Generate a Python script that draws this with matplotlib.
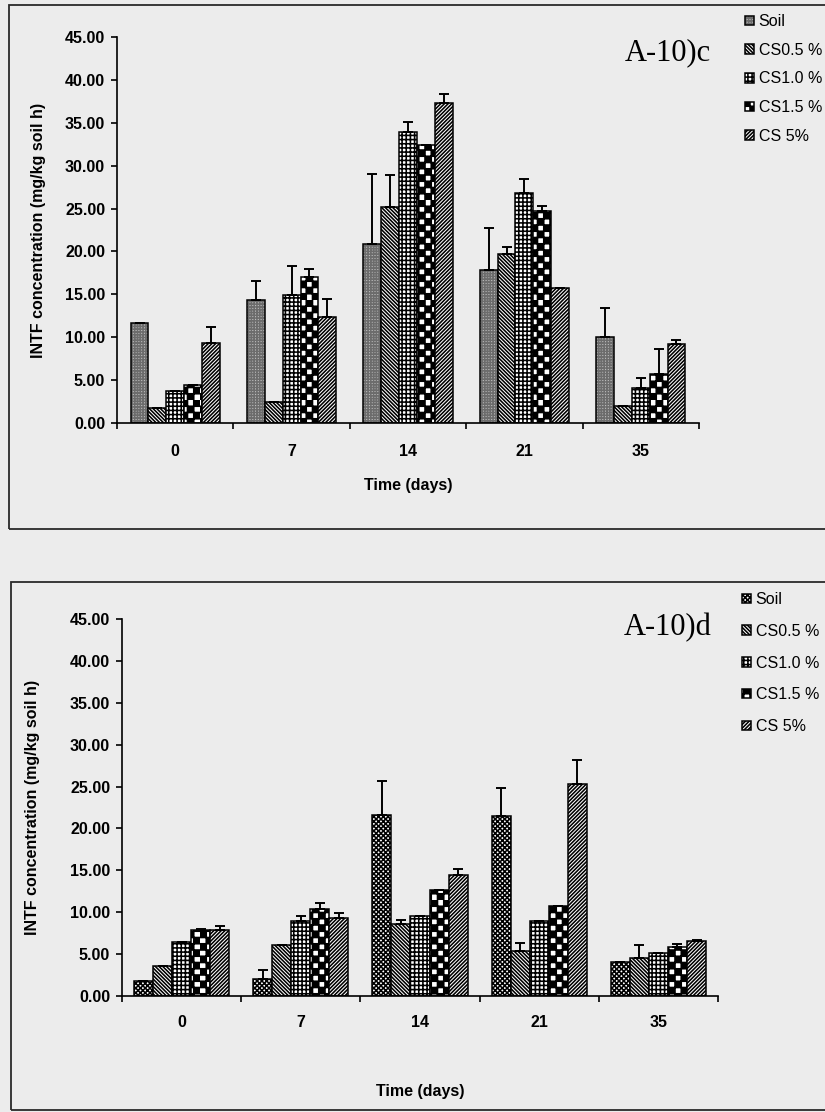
import numpy as np
import matplotlib
matplotlib.use('Agg')
import matplotlib.pyplot as plt
import matplotlib.hatch as mhatch
from matplotlib.path import Path
from matplotlib.patches import Rectangle
from matplotlib.ticker import FormatStrFormatter

# ---- data ----
days = ['0', '7', '14', '21', '35']
series = ['Soil', 'CS0.5 %', 'CS1.0 %', 'CS1.5 %', 'CS 5%']

# panel A-10)c
soil_c = [11.6, 14.3, 20.9, 17.8, 10.0]
cs05_c = [1.7, 2.4, 25.2, 19.7, 2.0]
cs10_c = [3.7, 14.9, 33.9, 26.8, 4.1]
cs15_c = [4.4, 17.0, 32.4, 24.7, 5.7]
cs50_c = [9.3, 12.3, 37.3, 15.7, 9.2]
soil_c_err = [0.0, 2.2, 8.1, 4.9, 3.4]
cs05_c_err = [0.0, 0.0, 3.7, 0.8, 0.0]
cs10_c_err = [0.0, 3.4, 1.2, 1.7, 1.2]
cs15_c_err = [0.0, 1.0, 0.0, 0.6, 2.9]
cs50_c_err = [1.9, 2.2, 1.0, 0.0, 0.5]

# panel A-10)d
soil_d = [1.8, 2.0, 21.6, 21.5, 4.0]
cs05_d = [3.6, 6.1, 8.6, 5.4, 4.5]
cs10_d = [6.4, 8.9, 9.5, 8.9, 5.1]
cs15_d = [7.9, 10.4, 12.6, 10.7, 5.8]
cs50_d = [7.9, 9.3, 14.4, 25.3, 6.6]
soil_d_err = [0.0, 1.1, 4.1, 3.3, 0.0]
cs05_d_err = [0.0, 0.0, 0.5, 0.9, 1.6]
cs10_d_err = [0.0, 0.6, 0.0, 0.0, 0.0]
cs15_d_err = [0.1, 0.7, 0.0, 0.0, 0.4]
cs50_d_err = [0.5, 0.6, 0.8, 2.9, 0.1]


# checkerboard fill for the CS 1.5 % bars (uses the '*' hatch slot)
class CheckerHatch(mhatch.HatchPatternBase):
    def __init__(self, hatch, density):
        self.n = 16 if '*' in hatch else 0
        self.num_vertices = (self.n * self.n // 2) * 5

    def set_vertices_and_codes(self, vertices, codes):
        s = 1.0 / self.n
        k = 0
        for i in range(self.n):
            for j in range(self.n):
                if (i + j) % 2 == 0:
                    vertices[k:k + 5] = [[i * s, j * s], [(i + 1) * s, j * s],
                                         [(i + 1) * s, (j + 1) * s], [i * s, (j + 1) * s],
                                         [i * s, j * s]]
                    codes[k:k + 5] = [Path.MOVETO, Path.LINETO, Path.LINETO,
                                      Path.LINETO, Path.CLOSEPOLY]
                    k += 5


mhatch._hatch_types = [h for h in mhatch._hatch_types if h is not mhatch.Stars] + [CheckerHatch]

plt.rcParams['font.family'] = 'Liberation Sans'
plt.rcParams['font.weight'] = 'bold'
plt.rcParams['axes.labelweight'] = 'bold'
plt.rcParams['hatch.linewidth'] = 1.15

W, H = 825, 1112
bg = '#ececec'
fig = plt.figure(figsize=(W / 100, H / 100), dpi=100, facecolor=bg)

back = '\\' * 9
fwd = '/' * 9


def draw_panel(ax, vals, errs, hatches, faces, hcols, width, tickpad):
    x = np.arange(len(days))
    n = len(series)
    handles = []
    for i in range(n):
        pos = x + (i - (n - 1) / 2) * width
        b1 = ax.bar(pos, vals[i], width, color=faces[i], edgecolor=hcols[i],
                    hatch=hatches[i], linewidth=0)
        b2 = ax.bar(pos, vals[i], width, fill=False, edgecolor='black', linewidth=1.1,
                    yerr=[np.zeros(len(days)), errs[i]],
                    error_kw=dict(ecolor='black', elinewidth=1.4, capsize=3.6, capthick=1.4))
        handles.append((b1, b2))
    ax.set_facecolor('none')
    ax.set_xlim(-0.5, len(days) - 0.5)
    ax.set_ylim(0, 45)
    ax.set_yticks(np.arange(0, 46, 5))
    ax.yaxis.set_major_formatter(FormatStrFormatter('%.2f'))
    ax.set_xticks(x)
    ax.set_xticklabels(days)
    ax.set_xticks(np.arange(-0.5, len(days), 1), minor=True)
    ax.tick_params(axis='x', which='major', length=0, pad=tickpad, labelsize=11.5)
    ax.tick_params(axis='x', which='minor', length=4, width=1.2, direction='out')
    ax.tick_params(axis='y', length=4, width=1.2, pad=4.5, labelsize=11.5)
    for s in ['top', 'right']:
        ax.spines[s].set_visible(False)
    for s in ['left', 'bottom']:
        ax.spines[s].set_linewidth(1.2)
    ax.set_xlabel('Time (days)', fontsize=11.5)
    ax.set_ylabel('INTF concentration (mg/kg soil h)', fontsize=11.5)
    return handles


# ---- top panel ----
ax1 = fig.add_axes([117 / W, 1 - 423 / H, (699 - 117) / W, (423 - 37) / H])
h1 = draw_panel(ax1,
                [soil_c, cs05_c, cs10_c, cs15_c, cs50_c],
                [soil_c_err, cs05_c_err, cs10_c_err, cs15_c_err, cs50_c_err],
                ['++++++', back, '++++', '*', fwd],
                ['#bcbcbc', 'white', 'white', 'white', 'white'],
                ['#6c6c6c', 'black', 'black', 'black', 'black'],
                0.153, 15)
ax1.xaxis.set_label_coords(0.5, -0.1425)
ax1.yaxis.set_label_coords(-0.122, 0.5)
ax1.legend(h1, series, loc='upper left', bbox_to_anchor=(745 / W, 1 - 14 / H),
           bbox_transform=fig.transFigure, frameon=False, borderpad=0, borderaxespad=0,
           handlelength=0.55, handleheight=0.55, handletextpad=0.3, labelspacing=0.86,
           prop={'family': 'Liberation Sans', 'weight': 'normal', 'size': 11.5})
fig.text(668 / W, 1 - 53 / H, 'A-10)c', family='Liberation Serif', fontweight='normal',
         fontsize=22, ha='center', va='center')

# ---- bottom panel ----
ax2 = fig.add_axes([122 / W, 1 - 996 / H, (718 - 122) / W, (996 - 619) / H])
h2 = draw_panel(ax2,
                [soil_d, cs05_d, cs10_d, cs15_d, cs50_d],
                [soil_d_err, cs05_d_err, cs10_d_err, cs15_d_err, cs50_d_err],
                ['xxxxxxx', back, '++++', '*', fwd],
                ['white'] * 5,
                ['black'] * 5,
                0.16, 14)
ax2.xaxis.set_label_coords(0.5, -0.233)
ax2.yaxis.set_label_coords(-0.1376, 0.5)
ax2.legend(h2, series, loc='upper left', bbox_to_anchor=(742 / W, 1 - 592 / H),
           bbox_transform=fig.transFigure, frameon=False, borderpad=0, borderaxespad=0,
           handlelength=0.55, handleheight=0.55, handletextpad=0.3, labelspacing=1.05,
           prop={'family': 'Liberation Sans', 'weight': 'normal', 'size': 11.5})
fig.text(668 / W, 1 - 628 / H, 'A-10)d', family='Liberation Serif', fontweight='normal',
         fontsize=22, ha='center', va='center')

# panel frames (right side runs off the page as in the scan)
fig.add_artist(Rectangle((9 / W, 1 - 529 / H), (835 - 9) / W, (529 - 5) / H,
                         transform=fig.transFigure, fill=False, edgecolor='#2a2a2a', linewidth=1.3))
fig.add_artist(Rectangle((11 / W, 1 - 1110 / H), (835 - 11) / W, (1110 - 582) / H,
                         transform=fig.transFigure, fill=False, edgecolor='#2a2a2a', linewidth=1.3))

fig.savefig('out.png', dpi=100, facecolor=bg)
